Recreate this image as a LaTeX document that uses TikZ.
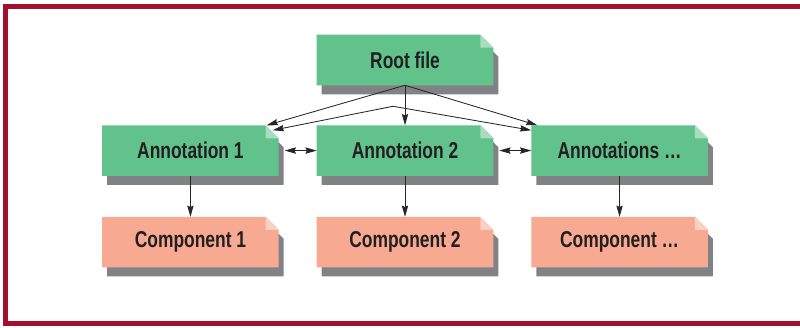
\documentclass[tikz,border=0pt]{standalone}
\usepackage{fontspec}
\setmainfont{Liberation Sans}[FakeStretch=0.76]
\usetikzlibrary{positioning,arrows.meta,backgrounds,calc}

\definecolor{notegreen}{RGB}{98,194,140}
\definecolor{notesalmon}{RGB}{247,170,145}
\definecolor{noteshadow}{RGB}{128,130,133}
\definecolor{framered}{RGB}{165,14,45}
\definecolor{labeltext}{RGB}{35,31,32}

% one note sheet with a folded top right corner, moved by #2
\newcommand\notefill[3]{%
  \fill[#3] ([shift={#2}]#1.south west) -- ([shift={#2}]#1.south east)
    -- ([shift={#2}]$(#1.north east)+(0,-0.325)$) -- ([shift={#2}]$(#1.north east)+(-0.325,0)$)
    -- ([shift={#2}]#1.north west) -- cycle;}

\tikzset{
  notebox/.style={minimum width=4.4cm, minimum height=1.25cm, inner sep=0pt,
    text=labeltext, font=\fontsize{16.3}{18}\selectfont\bfseries},
  link/.style={draw=black!85, line width=0.6pt, -{Stealth[length=8pt,width=4.5pt,inset=1pt]}},
  twoway/.style={link, {Stealth[length=8pt,width=4.5pt,inset=1pt]}-{Stealth[length=8pt,width=4.5pt,inset=1pt]}},
}

\begin{document}
\begin{tikzpicture}
\useasboundingbox (0,0) rectangle (20,8.2);
\draw[framered, line width=0.125cm] (20,8.0375) -- (0.1375,8.0375) -- (0.1375,0.1125) -- (20,0.1125);

\node[notebox] (root) at (10.125,6.7) {Root file};
\node[notebox, below=1cm of root] (ann2) {Annotation 2};
\node[notebox, left=0.95cm of ann2] (ann1) {Annotation 1};
\node[notebox, right=0.95cm of ann2] (ann3) {Annotations …};
\node[notebox, below=1.025cm of ann1] (comp1) {Component 1};
\node[notebox, below=1.025cm of ann2] (comp2) {Component 2};
\node[notebox, below=1.025cm of ann3] (comp3) {Component …};

\begin{scope}[on background layer]
\foreach \n/\c in {root/notegreen, ann1/notegreen, ann2/notegreen, ann3/notegreen,
    comp1/notesalmon, comp2/notesalmon, comp3/notesalmon} {
  \notefill{\n}{(0.125,-0.225)}{noteshadow}
  \notefill{\n}{(0,0)}{\c}
  \fill[\c!55!white] ($(\n.north east)+(-0.325,0)$) -- ($(\n.north east)+(0,-0.325)$)
    -- ($(\n.north east)+(-0.325,-0.325)$) -- cycle;
}
\end{scope}

\coordinate (hub) at ([xshift=-0.3cm,yshift=-0.525cm]root.south);
\draw[link] (root.south) -- ([xshift=-0.3cm]ann1.north east);
\draw[link] (root.south) -- (ann2.north);
\draw[link] (root.south) -- ([xshift=0.15cm]ann3.north west);
\draw[twoway] ([xshift=-0.15cm,yshift=-0.125cm]ann1.north east) -- (hub) -- ([yshift=-0.125cm]ann3.north west);
\draw[twoway] ([xshift=0.15cm]ann1.east) -- (ann2.west);
\draw[twoway] ([xshift=0.15cm]ann2.east) -- (ann3.west);
\foreach \i in {1,2,3}
  \draw[link] (ann\i) -- (comp\i);
\end{tikzpicture}
\end{document}
